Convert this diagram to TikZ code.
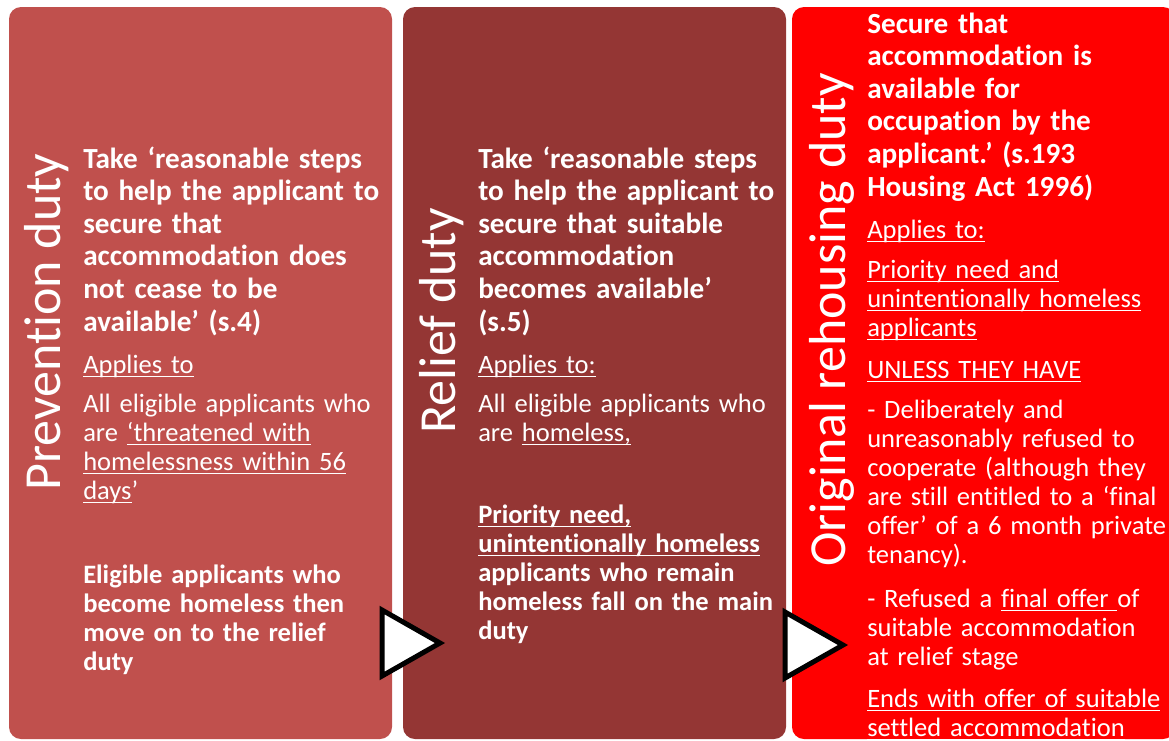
\documentclass[tikz,border=0pt]{standalone}
\usepackage{fontspec}
\setmainfont{Carlito}[Ligatures=NoCommon]
\frenchspacing
\definecolor{prevred}{HTML}{C0504D}
\definecolor{reliefred}{HTML}{943634}
\definecolor{mainred}{HTML}{FF0000}
\newcommand{\headfont}{\fontsize{21.9pt}{24.45pt}\selectfont\bfseries}
\newcommand{\bodyfont}{\fontsize{19.9pt}{21.8pt}\selectfont}
\newcommand{\uln}[1]{\leavevmode\setbox0\hbox{#1}\rlap{\rule[-3.1pt]{\wd0}{1pt}}\box0}

\begin{document}
\begin{tikzpicture}[x=0.75pt,y=-0.75pt,
        panel/.style={rounded corners=9pt,minimum width=287.25pt,minimum height=549pt,inner sep=0pt},
        dutytitle/.style={rotate=90,anchor=base,text=white,inner sep=0pt,font=\fontsize{39pt}{40pt}\selectfont},
        headtext/.style={anchor=base west,text=white,inner sep=0pt,text width=270pt,font=\headfont},
        bodytext/.style={anchor=base west,text=white,inner sep=0pt,text width=270pt,font=\bodyfont},
        boldtext/.style={bodytext,font=\bodyfont\bfseries},
        steparrow/.style={draw=black,fill=white,line width=3.75pt,line join=miter}]
    \useasboundingbox (0,0) rectangle (1169,740);
    % the three duties
    \node [panel,fill=prevred] (p1) at (200.5,373) {};
    \node [panel,fill=reliefred] (p2) at (594.5,373) {};
    \node [panel,fill=mainred] (p3) at (983.5,373) {};
    \node [dutytitle] (t1) at (60,322) {Prevention duty};
    \node [dutytitle] (t2) at (455,321) {Relief duty};
    \node [dutytitle] (t3) at (845,320) {Original rehousing duty};
    % prevention
    \node [headtext] (p1head) at (83,168) {Take ‘reasonable steps\\to help the applicant to\\secure that\\accommodation does\\not cease to be\\available’ (s.4)};
    \node [bodytext] (p1applies) at (83,373) {\uln{Applies to}};
    \node [bodytext] (p1who) at (83,412) {All eligible applicants who\\are \uln{‘threatened with}\\\uln{homelessness within 56}\\\uln{days}’};
    \node [boldtext] (p1next) at (83,583) {Eligible applicants who\\become homeless then\\move on to the relief\\duty};
    % relief
    \node [headtext] (p2head) at (478,168) {Take ‘reasonable steps\\to help the applicant to\\secure that suitable\\accommodation\\becomes available’\\(s.5)};
    \node [bodytext] (p2applies) at (478,373) {\uln{Applies to:}};
    \node [bodytext] (p2who) at (478,412) {All eligible applicants who\\are \uln{homeless,}};
    \node [boldtext] (p2main) at (478,523) {\uln{Priority need,}\\\uln{unintentionally homeless}\\applicants who remain\\homeless fall on the main\\duty};
    % main duty
    \node [headtext] (p3head) at (867,33) {Secure that\\accommodation is\\available for\\occupation by the\\applicant.’ (s.193\\Housing Act 1996)};
    \node [bodytext] (p3applies) at (867,238) {\uln{Applies to:}};
    \node [bodytext] (p3who) at (867,278) {\uln{Priority need and}\\\uln{unintentionally homeless}\\\uln{applicants}};
    \node [bodytext] (p3unless) at (867,378) {\uln{UNLESS THEY HAVE}};
    \node [bodytext] (p3coop) at (867,418) {- Deliberately and\\unreasonably refused to\\cooperate (although they\\are still entitled to a ‘final\\offer’ of a 6 month private\\tenancy).};
    \node [bodytext] (p3refused) at (867,607) {- Refused a \uln{final offer }of\\suitable accommodation\\at relief stage};
    \node [bodytext] (p3ends) at (867,707) {\uln{Ends with offer of suitable}\\\uln{settled accommodation}};
    % arrows between the duties
    \foreach \bx/\by in {382/643, 785/645}
        \draw [steparrow] (\bx,\by-33) -- ++(58,33) -- ++(-58,33) -- cycle;
\end{tikzpicture}
\end{document}
